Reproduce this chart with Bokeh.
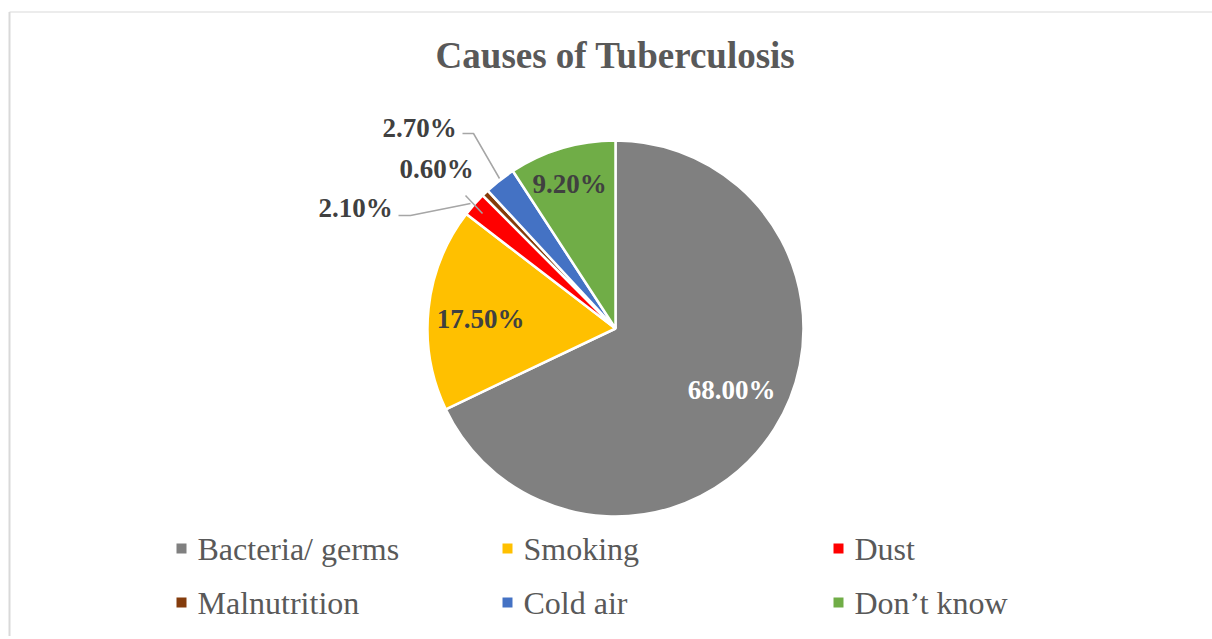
import math
from bokeh.plotting import figure
from bokeh.models import ColumnDataSource, Range1d
from bokeh.core.properties import value
from bokeh.embed import file_html
from bokeh.resources import INLINE

# ---- data ----
categories = ["Bacteria/ germs", "Smoking", "Dust", "Malnutrition", "Cold air", "Don\u2019t know"]
percents = [68.0, 17.5, 2.1, 0.6, 2.7, 9.2]
labels = ["68.00%", "17.50%", "2.10%", "0.60%", "2.70%", "9.20%"]
colors = ["#808080", "#FFC000", "#FF0000", "#843C0C", "#4472C4", "#70AD47"]

W, H = 1212, 636
CX, CY = 615, 328          # pie centre in figure pixels (from top-left)
R = 188
FONT = value("Liberation Serif")

p = figure(width=W, height=H, output_backend="svg", toolbar_location=None,
           x_range=Range1d(-CX, W - CX), y_range=Range1d(CY - H, CY),
           min_border=0, outline_line_color=None)
p.axis.visible = False
p.grid.visible = False
p.background_fill_color = "white"
p.border_fill_color = "white"

# chart border (left and top visible)
p.segment(x0=[-CX + 9, -CX + 9], y0=[CY - 11.5, CY - 11.5], x1=[-CX + 9, W - CX + 5],
          y1=[CY - H - 5, CY - 11.5], line_color="#D9D9D9", line_width=[2, 1.2])

# wedges
total = sum(percents)
starts, ends = [], []
cum = 0.0
for v in percents:
    starts.append(math.pi / 2 - cum / total * 2 * math.pi)
    cum += v
    ends.append(math.pi / 2 - cum / total * 2 * math.pi)
src = ColumnDataSource(dict(start=starts, end=ends, color=colors, cat=categories))
p.wedge(x=0, y=0, radius=R, start_angle="start", end_angle="end", direction="clock",
        fill_color="color", line_color="white", line_width=2.5, source=src)

# data labels (positions relative to pie centre, pixels, y up)
label_pos = [(116, -61), (-135, 10), (-260, 121), (-179, 160), (-196, 201), (-46, 145)]
label_col = ["white", "#404040", "#404040", "#404040", "#404040", "#404040"]
p.text(x=[q[0] for q in label_pos], y=[q[1] for q in label_pos], text=labels,
       text_color=label_col, text_font=FONT, text_font_style="bold",
       text_font_size="27px", text_align="center", text_baseline="middle")

# leader lines
p.line(x=[-153, -142, -116], y=[195, 195, 150], line_color="#A6A6A6", line_width=1.5)
p.line(x=[-217, -205, -145], y=[113, 113, 125], line_color="#A6A6A6", line_width=1.5)
p.line(x=[-150, -133], y=[133, 115], line_color="#A6A6A6", line_width=1.5)

# title
p.text(x=[0], y=[CY - 55], text=["Causes of Tuberculosis"], text_color="#595959",
       text_font=FONT, text_font_style="bold", text_font_size="37px",
       text_align="center", text_baseline="middle")

# legend
col_x = [-434, -108, 223]
row_y = [CY - 548, CY - 602]
lx, ly = [], []
for i in range(len(categories)):
    lx.append(col_x[i % 3])
    ly.append(row_y[i // 3])
p.rect(x=lx, y=ly, width=10, height=10, fill_color=colors, line_color=None)
p.text(x=[x + 16 for x in lx], y=ly, text=categories, text_color="#595959",
       text_font=FONT, text_font_size="32px", text_align="left", text_baseline="middle")

open("out.html", "w").write(file_html(p, INLINE))
